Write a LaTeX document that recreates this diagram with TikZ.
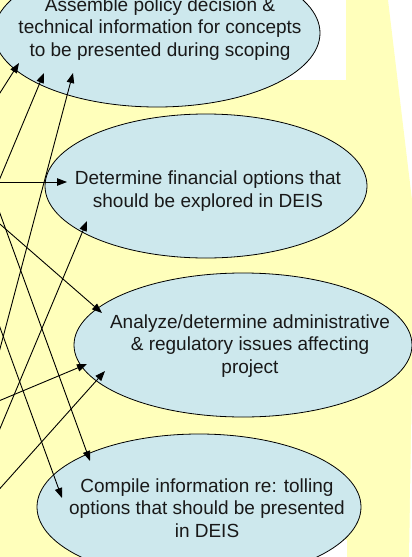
\documentclass[tikz,border=0pt]{standalone}
\usepackage{fontspec}
\setmainfont{Liberation Sans}
\usetikzlibrary{arrows.meta,shapes.geometric}
\definecolor{paleyellow}{RGB}{255,255,187}
\definecolor{paleblue}{RGB}{205,232,237}

\begin{document}
\begin{tikzpicture}[x=1pt,y=-1pt,
    task/.style={ellipse,draw,line width=0.8pt,fill=paleblue,inner sep=0pt},
    tasktext/.style={align=center,inner sep=0pt,text=black!90,
      font=\fontsize{19}{22.5}\selectfont},
    link/.style={line width=0.9pt,-{Triangle[length=10pt,width=7.5pt]}}]
  \useasboundingbox (0,0) rectangle (412,557);
  \clip (0,0) rectangle (412,557);
  % background
  \fill[paleyellow] (0,0) -- (388,0) -- (412,200) -- (412,557) -- (0,557) -- cycle;
  \fill[white] (250,0) rectangle (346,80);
  \fill[white] (300,540) rectangle (347,557);
  \fill[white] (412,380) -- (412,557) -- (409,557) -- cycle;

  \node[task,minimum width=326pt,minimum height=148pt] (scope) at (157,33) {};
  \node[task,minimum width=322pt,minimum height=144pt] (finance) at (206,186) {};
  \node[task,minimum width=338pt,minimum height=144pt] (admin) at (243,345) {};
  \node[task,minimum width=324pt,minimum height=146pt] (toll) at (199,507) {};

  \node[tasktext] (scopetext) at (160,29)
    {Assemble policy decision \&\\technical information for concepts\\to be presented during scoping};
  \node[tasktext] (financetext) at (208,191)
    {Determine financial options that\\should be explored in DEIS};
  \node[tasktext] (admintext) at (250,346)
    {Analyze/determine administrative\\\& regulatory issues affecting\\project};
  \node[tasktext] (tolltext) at (207,508)
    {Compile information re: tolling\\options that should be presented\\in DEIS};

  % ends off the left edge
  \coordinate (s1) at (-30,140); \coordinate (s2) at (-30,250);
  \coordinate (s3) at (-30,462); \coordinate (s4) at (-30,182);
  \coordinate (s5) at (-30,500); \coordinate (s6) at (-30,198);
  \coordinate (s7) at (-30,413); \coordinate (s8) at (-30,522);
  \coordinate (s9) at (-30,131); \coordinate (s10) at (-30,245);
  % arrow tips
  \coordinate (scope1) at (19,63); \coordinate (scope2) at (44,73);
  \coordinate (scope3) at (73,73);
  \coordinate (finance1) at (67,182); \coordinate (finance2) at (87,221);
  \coordinate (admin1) at (102,313); \coordinate (admin2) at (87,364);
  \coordinate (admin3) at (105,371);
  \coordinate (toll1) at (90,461); \coordinate (toll2) at (62,498);

  \foreach \a/\b in {s1/scope1,s2/scope2,s3/scope3,s4/finance1,s5/finance2,
      s6/admin1,s7/admin2,s8/admin3,s9/toll1,s10/toll2}
    \draw[link] (\a) -- (\b);
\end{tikzpicture}
\end{document}
